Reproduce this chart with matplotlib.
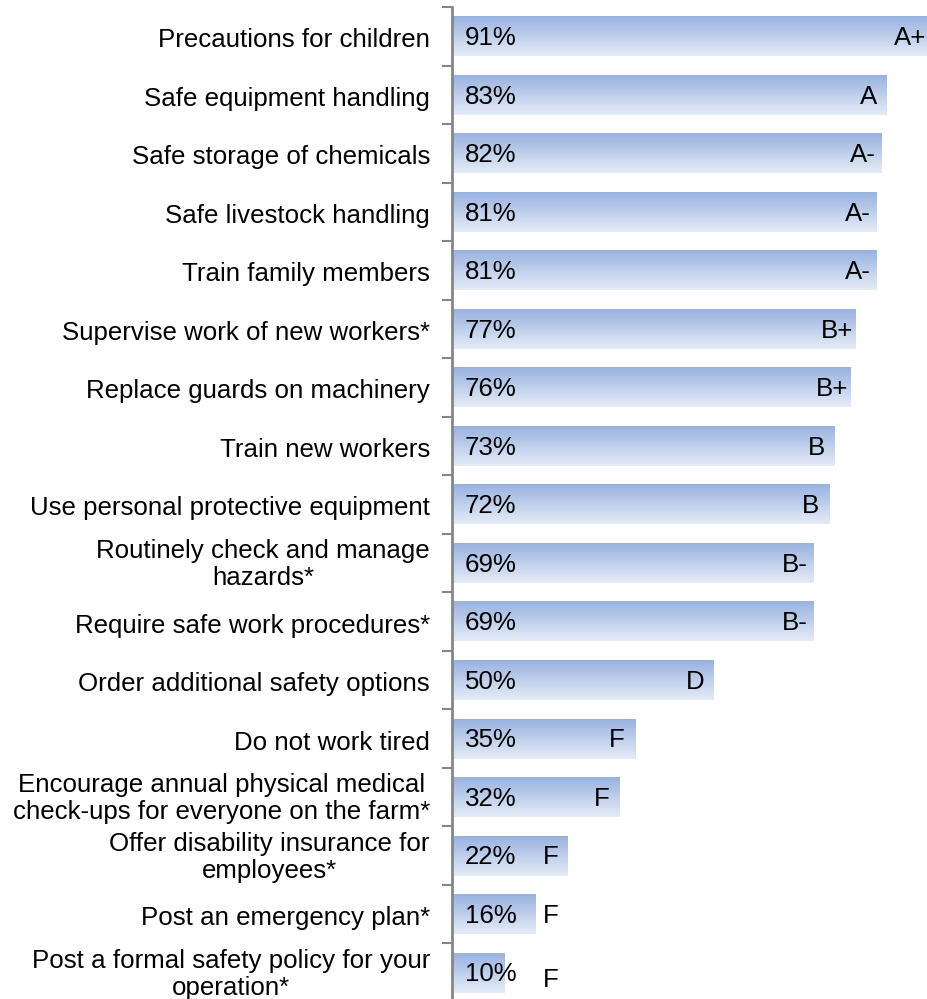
import numpy as np
import matplotlib.pyplot as plt
import matplotlib.transforms as mtransforms
from matplotlib.colors import LinearSegmentedColormap

plt.rcParams["font.family"] = ["Liberation Sans", "DejaVu Sans"]

labels = [
    "Precautions for children",
    "Safe equipment handling",
    "Safe storage of chemicals",
    "Safe livestock handling",
    "Train family members",
    "Supervise work of new workers*",
    "Replace guards on machinery",
    "Train new workers",
    "Use personal protective equipment",
    "Routinely check and manage\nhazards*",
    "Require safe work procedures*",
    "Order additional safety options",
    "Do not work tired",
    "Encourage annual physical medical\ncheck-ups for everyone on the farm*",
    "Offer disability insurance for\nemployees*",
    "Post an emergency plan*",
    "Post a formal safety policy for your\noperation*",
]
values = [91, 83, 82, 81, 81, 77, 76, 73, 72, 69, 69, 50, 35, 32, 22, 16, 10]
grades = ["A+", "A", "A-", "A-", "A-", "B+", "B+", "B", "B", "B-", "B-",
          "D", "F", "F", "F", "F", "F"]

W, H = 928, 999
FS = 18.6
fig = plt.figure(figsize=(W / 100, H / 100), dpi=100)
# axes spans from x=452px to the right edge, y from 7px to just past the bottom
ax = fig.add_axes([452 / W, -3 / H, 476 / W, 1 - 4 / H])

# dark blue at the top of each bar fading to pale at the bottom
cmap = LinearSegmentedColormap.from_list("bar", ["#98B2E0", "#E6ECF7"])
grad = np.linspace(0, 1, 64).reshape(-1, 1)

n = len(values)
bar_h = 0.68
for i, (v, g) in enumerate(zip(values, grades)):
    y = i
    ax.imshow(grad, extent=(0, v, y + bar_h / 2, y - bar_h / 2), cmap=cmap,
              aspect="auto", origin="upper", interpolation="bicubic", zorder=2)
    ax.text(2.4, y + 0.03, f"{v}%", ha="left", va="center", fontsize=FS, zorder=3)
    gx = max(v - 3.5, 18.8)
    ax.text(gx, y + (0.12 if v < 15 else 0.03), g, ha="center", va="center",
            fontsize=FS, zorder=3)

ax.set_xlim(0, 476 / 5.24)
ax.set_ylim(n - 0.5, -0.5)

# category labels, right aligned 22px left of the axis line
base_tr = mtransforms.blended_transform_factory(ax.transAxes, ax.transData)
for i, lab in enumerate(labels):
    dy = -1.5 if "\n" in lab else -4
    tr = base_tr + mtransforms.ScaledTranslation(-22 / 100, dy / 100,
                                                 fig.dpi_scale_trans)
    ax.text(0, i, lab, transform=tr, ha="right", va="center",
            multialignment="center", linespacing=1.17, fontsize=FS,
            clip_on=False)

ax.set_yticks(np.arange(n + 1) - 0.5)
ax.set_yticklabels([])
ax.tick_params(axis="y", length=7, width=1.5, color="#868686")
ax.set_xticks([])

for side in ["top", "right", "bottom"]:
    ax.spines[side].set_visible(False)
ax.spines["left"].set_color("#868686")
ax.spines["left"].set_linewidth(2)

fig.savefig("out.png", dpi=100)
